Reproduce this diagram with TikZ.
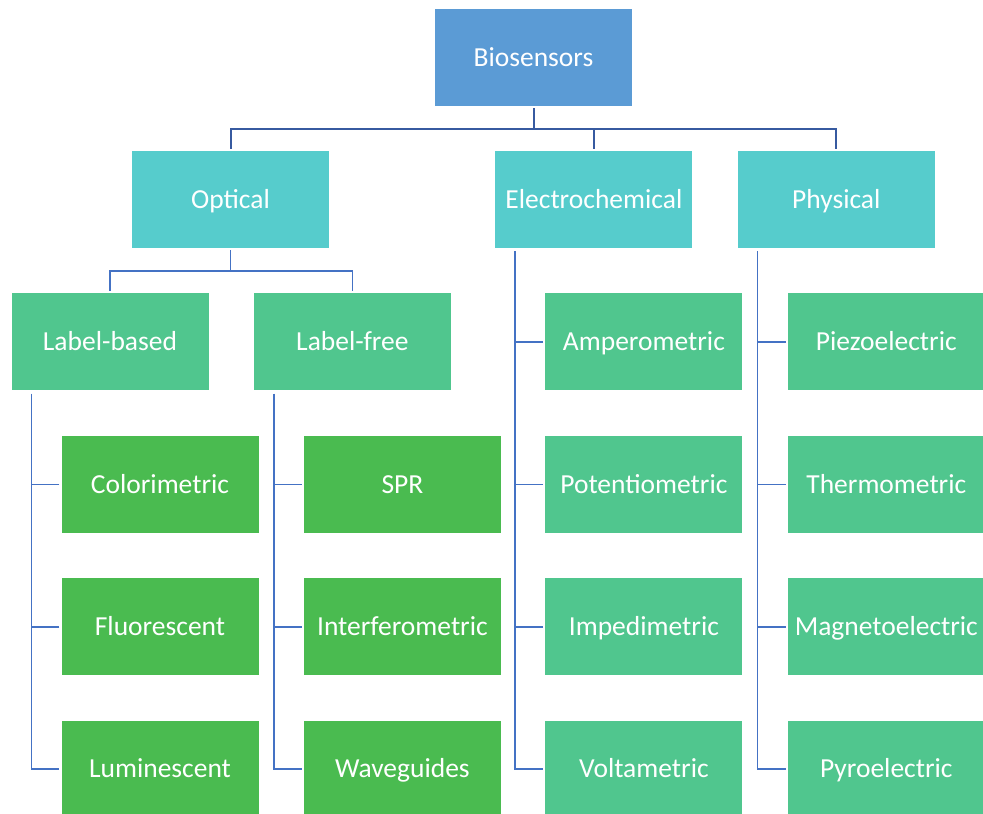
\documentclass[tikz,border=0pt]{standalone}
\usepackage{fontspec}
\setmainfont{Carlito}
\usepackage{tikz}
\usetikzlibrary{positioning}

\definecolor{biosblue}{RGB}{91,155,213}
\definecolor{teal2}{RGB}{86,204,204}
\definecolor{mint}{RGB}{80,198,142}
\definecolor{leaf}{RGB}{74,187,80}
\definecolor{linkblue}{RGB}{68,114,196}
\definecolor{topblue}{RGB}{55,90,160}

\begin{document}
\begin{tikzpicture}[
  x=1pt, y=1pt,
  node distance=45pt and 45pt,
  box/.style={minimum width=197pt, minimum height=97pt, inner sep=0pt, text height=17.7pt, text depth=0pt, text=white, font=\fontsize{27.5}{33}\selectfont},
  link/.style={draw=linkblue, line width=1.6pt},
  toplink/.style={draw=topblue, line width=2pt}
]
  \useasboundingbox (0,0) rectangle (983,-814);

  % top two levels
  \node[box, fill=biosblue] (bio) at (533.5,-57.5) {Biosensors};
  \node[box, fill=teal2] (opt) at (230.5,-199.5) {Optical};
  \node[box, fill=teal2, right=166pt of opt] (elec) {Electrochemical};
  \node[box, fill=teal2, right=of elec] (phys) {Physical};

  \node[box, fill=mint, below=of opt, xshift=-120.5pt] (lbl) {Label-based};
  \node[box, fill=mint, right=of lbl] (lfree) {Label-free};

  % leaves
  \node[box, fill=leaf, below=of lbl, xshift=50pt] (colo) {Colorimetric};
  \node[box, fill=leaf, below=of colo] (fluo) {Fluorescent};
  \node[box, fill=leaf, below=of fluo] (lumi) {Luminescent};

  \node[box, fill=leaf, below=of lfree, xshift=50pt] (spr) {SPR};
  \node[box, fill=leaf, below=of spr] (intf) {Interferometric};
  \node[box, fill=leaf, below=of intf] (wave) {Waveguides};

  \node[box, fill=mint, below=of elec, xshift=50pt] (amp) {Amperometric};
  \node[box, fill=mint, below=of amp] (pot) {Potentiometric};
  \node[box, fill=mint, below=of pot] (imp) {Impedimetric};
  \node[box, fill=mint, below=of imp] (volt) {Voltametric};

  \node[box, fill=mint, below=of phys, xshift=50pt] (piezo) {Piezoelectric};
  \node[box, fill=mint, below=of piezo] (thermo) {Thermometric};
  \node[box, fill=mint, below=of thermo] (magneto) {Magnetoelectric};
  \node[box, fill=mint, below=of magneto] (pyro) {Pyroelectric};

  % connectors
  \coordinate (hub) at ([yshift=-22.5pt]bio.south);
  \draw[toplink] ([yshift=-2pt]bio.south) -- (hub);
  \foreach \c in {opt,elec,phys}
    \draw[toplink, shorten >=2pt] (hub) -| (\c.north);

  \coordinate (ohub) at ([yshift=-22.5pt]opt.south);
  \draw[link] ([yshift=-2pt]opt.south) -- (ohub);
  \foreach \c in {lbl,lfree}
    \draw[link, shorten >=2pt] (ohub) -| (\c.north);

  \foreach \p/\l in {lbl/lumi, lfree/wave, elec/volt, phys/pyro}
    \draw[link, shorten >=2pt] ([xshift=20pt,yshift=-3pt]\p.south west) |- (\l.west);
  \foreach \k in {colo,fluo,spr,intf,amp,pot,imp,piezo,thermo,magneto}
    \draw[link] ([xshift=-2pt]\k.west) -- ++(-28pt,0);
\end{tikzpicture}
\end{document}
